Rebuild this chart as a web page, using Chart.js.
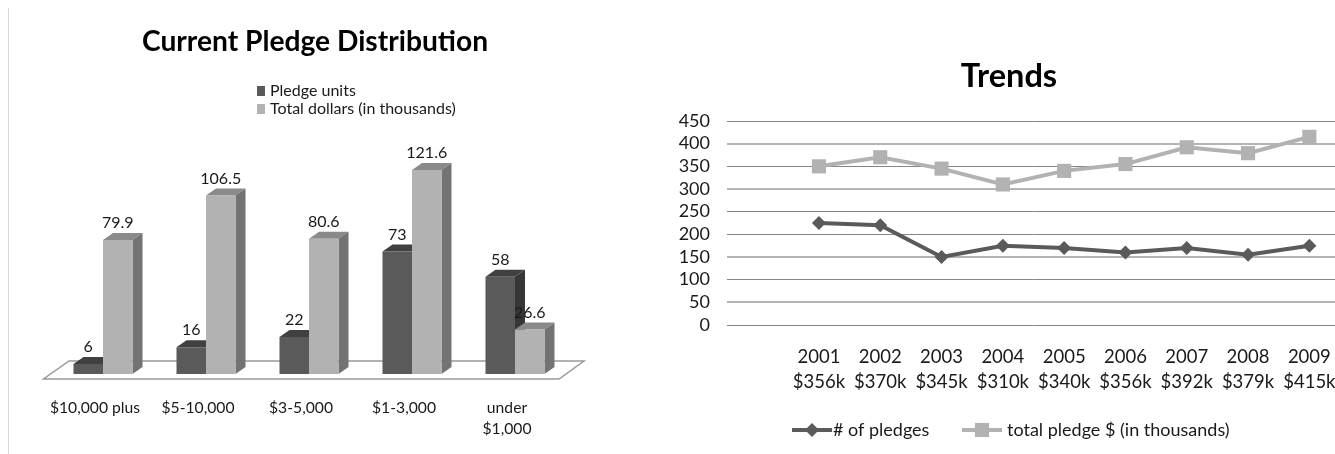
<!DOCTYPE html>
<html lang="en">
<head>
    <meta charset="UTF-8">
    <title>Pledges</title>
    <style>
        html, body { margin: 0; padding: 0; background: #fff; overflow: hidden; width: 1335px; height: 454px; }
        .edge { position: absolute; left: 8px; top: 8px; width: 1px; height: 446px; background: #d9d9d9; }
        .box { position: absolute; top: 0; height: 454px; }
        #distBox { left: 0; width: 630px; }
        #trendBox { left: 678px; width: 662px; }
    </style>
    <script src="https://cdn.jsdelivr.net/npm/chart.js"></script>
</head>
<body>
    <div class="edge"></div>
    <div class="box" id="distBox"><canvas id="distChart"></canvas></div>
    <div class="box" id="trendBox"><canvas id="trendChart"></canvas></div>

    <script>
        // left chart
        const distCategories = ['$10,000 plus', '$5-10,000', '$3-5,000', '$1-3,000', ['under', '$1,000']];
        const pledgeUnits = [6, 16, 22, 73, 58];
        const totalDollars = [79.9, 106.5, 80.6, 121.6, 26.6];

        // right chart
        const trendYears = ['', ['2001', '$356k'], ['2002', '$370k'], ['2003', '$345k'], ['2004', '$310k'], ['2005', '$340k'], ['2006', '$356k'], ['2007', '$392k'], ['2008', '$379k'], ['2009', '$415k']];
        const pledgeCounts = [null, 225, 220, 150, 175, 170, 160, 170, 155, 175];
        const pledgeTotals = [null, 350, 370, 345, 310, 340, 355, 392, 379, 415];
        const paleGridValues = [400, 300, 150, 50];

        const FONT = 'Lato, Carlito, sans-serif';
        const DARK = '#5a5a5a', LIGHT = '#b2b2b2';
        Chart.defaults.font.family = FONT;
        Chart.defaults.color = '#1a1a1a';
        Chart.defaults.animation = false;

        // fake 3D: floor, then side and top of each bar. The fronts come from the library afterwards
        const bars3d = {
            id: 'bars3d',
            beforeDatasetsDraw(chart) {
                const ctx = chart.ctx, a = chart.chartArea, dx = 10, dy = 7;
                ctx.save();
                ctx.beginPath();
                ctx.moveTo(a.left - 8, a.bottom + 5);
                ctx.lineTo(a.right - 7.5, a.bottom + 5);
                ctx.lineTo(a.right + 17.5, a.bottom - 13);
                ctx.lineTo(a.left + 17.5, a.bottom - 13);
                ctx.closePath();
                ctx.strokeStyle = '#9a9a9a';
                ctx.lineWidth = 1.5;
                ctx.stroke();
                chart.data.datasets.forEach((ds, i) => {
                    chart.getDatasetMeta(i).data.forEach(bar => {
                        const l = bar.x - bar.width / 2, r = bar.x + bar.width / 2, t = bar.y, b = bar.base;
                        ctx.fillStyle = ds.topColor;
                        ctx.beginPath();
                        ctx.moveTo(l, t);
                        ctx.lineTo(l + dx, t - dy);
                        ctx.lineTo(r + dx, t - dy);
                        ctx.lineTo(r, t);
                        ctx.fill();
                        ctx.fillStyle = ds.sideColor;
                        ctx.beginPath();
                        ctx.moveTo(r, t);
                        ctx.lineTo(r + dx, t - dy);
                        ctx.lineTo(r + dx, b - dy);
                        ctx.lineTo(r, b);
                        ctx.fill();
                    });
                });
                ctx.restore();
            },
            afterDatasetsDraw(chart) {
                const ctx = chart.ctx;
                ctx.save();
                ctx.font = '16px ' + FONT;
                ctx.fillStyle = '#1a1a1a';
                ctx.textAlign = 'center';
                ctx.textBaseline = 'middle';
                chart.data.datasets.forEach((ds, i) => {
                    chart.getDatasetMeta(i).data.forEach((bar, j) => {
                        ctx.fillText(ds.data[j], bar.x, bar.y - 17);
                    });
                });
                ctx.restore();
            }
        };

        // legends here do not fit the built-in layouts, so they are drawn by hand
        const handLegend = {
            id: 'handLegend',
            afterDraw(chart, args, opts) {
                const ctx = chart.ctx;
                ctx.save();
                ctx.font = opts.size + 'px ' + FONT;
                ctx.textBaseline = 'middle';
                chart.data.datasets.forEach((ds, i) => {
                    const it = opts.items[i];
                    if (opts.line) {
                        ctx.strokeStyle = ds.borderColor;
                        ctx.fillStyle = ds.borderColor;
                        ctx.lineWidth = 4;
                        ctx.beginPath();
                        ctx.moveTo(it.x, it.y);
                        ctx.lineTo(it.x + 40, it.y);
                        ctx.stroke();
                        Chart.helpers.drawPoint(ctx, { pointStyle: ds.pointStyle, radius: ds.pointRadius, borderWidth: 0 }, it.x + 20, it.y);
                    } else {
                        ctx.fillStyle = ds.backgroundColor;
                        ctx.fillRect(it.x, it.y - 5, 8, 10);
                    }
                    ctx.fillStyle = '#1a1a1a';
                    ctx.fillText(ds.label, it.tx, it.y);
                });
                ctx.restore();
            }
        };

        // empty side axes: they hold the plot off the edges without moving the centred title
        const spacerAxis = (position, width) => ({
            position,
            min: 0,
            max: 145,
            afterFit(scale) { scale.width = width; },
            grid: { display: false, drawTicks: false },
            border: { display: false },
            ticks: { display: false }
        });

        new Chart(document.getElementById('distChart'), {
            type: 'bar',
            data: {
                labels: distCategories,
                datasets: [
                    { label: 'Pledge units', data: pledgeUnits, backgroundColor: DARK, topColor: '#404040', sideColor: '#363636' },
                    { label: 'Total dollars (in thousands)', data: totalDollars, backgroundColor: LIGHT, topColor: '#8a8a8a', sideColor: '#737373' }
                ]
            },
            options: {
                responsive: true,
                maintainAspectRatio: false,
                layout: { padding: 0, autoPadding: false },
                datasets: { bar: { categoryPercentage: 0.573, barPercentage: 1 } },
                scales: {
                    x: {
                        afterFit(scale) { scale.height = 80; scale.paddingLeft = 0; scale.paddingRight = 0; },
                        grid: { display: false, drawTicks: false },
                        border: { display: false },
                        ticks: { font: { size: 15.7, lineHeight: 1.34 }, padding: 23, labelOffset: -8, autoSkip: false, maxRotation: 0 }
                    },
                    y: spacerAxis('left', 51.5),
                    rightSpace: spacerAxis('right', 63.5)
                },
                plugins: {
                    legend: { display: false },
                    tooltip: { enabled: false },
                    title: {
                        display: true,
                        text: 'Current Pledge Distribution',
                        color: '#000',
                        font: { size: 28.2, weight: 'bold' },
                        padding: { top: 25, bottom: 72 }
                    },
                    handLegend: {
                        size: 16,
                        items: [{ x: 257, y: 91, tx: 270 }, { x: 257, y: 109, tx: 270 }]
                    }
                }
            },
            plugins: [bars3d, handLegend]
        });

        new Chart(document.getElementById('trendChart'), {
            type: 'line',
            data: {
                labels: trendYears,
                datasets: [
                    { label: '# of pledges', data: pledgeCounts, borderColor: DARK, backgroundColor: DARK, borderWidth: 4, pointStyle: 'rectRot', pointRadius: 7, pointBorderWidth: 0 },
                    { label: 'total pledge $ (in thousands)', data: pledgeTotals, borderColor: LIGHT, backgroundColor: LIGHT, borderWidth: 4, pointStyle: 'rect', pointRadius: 10, pointBorderWidth: 0 }
                ]
            },
            options: {
                responsive: true,
                maintainAspectRatio: false,
                layout: { padding: 0, autoPadding: false },
                scales: {
                    x: {
                        offset: true,
                        afterFit(scale) { scale.height = 129; scale.paddingRight = 0; },
                        grid: { display: false, drawTicks: false },
                        border: { display: false },
                        ticks: { font: { size: 18.5, lineHeight: 1.3 }, padding: 20.5, autoSkip: false, maxRotation: 0 }
                    },
                    y: {
                        min: 0,
                        max: 450,
                        afterFit(scale) { scale.width = 49; },
                        border: { display: false },
                        grid: {
                            color: c => paleGridValues.includes(c.tick.value) ? '#b4b4b4' : '#858585',
                            lineWidth: c => paleGridValues.includes(c.tick.value) ? 2 : 1,
                            drawTicks: false
                        },
                        ticks: { stepSize: 50, autoSkip: false, font: { size: 18 }, padding: 17 }
                    }
                },
                plugins: {
                    legend: { display: false },
                    tooltip: { enabled: false },
                    title: {
                        display: true,
                        text: 'Trends',
                        color: '#000',
                        font: { size: 32.5, weight: 'bold' },
                        padding: { top: 57.5, bottom: 24.5 }
                    },
                    handLegend: {
                        size: 18,
                        line: true,
                        items: [{ x: 114, y: 430, tx: 155 }, { x: 284, y: 430, tx: 329 }]
                    }
                }
            },
            plugins: [handLegend]
        });
    </script>
</body>
</html>
